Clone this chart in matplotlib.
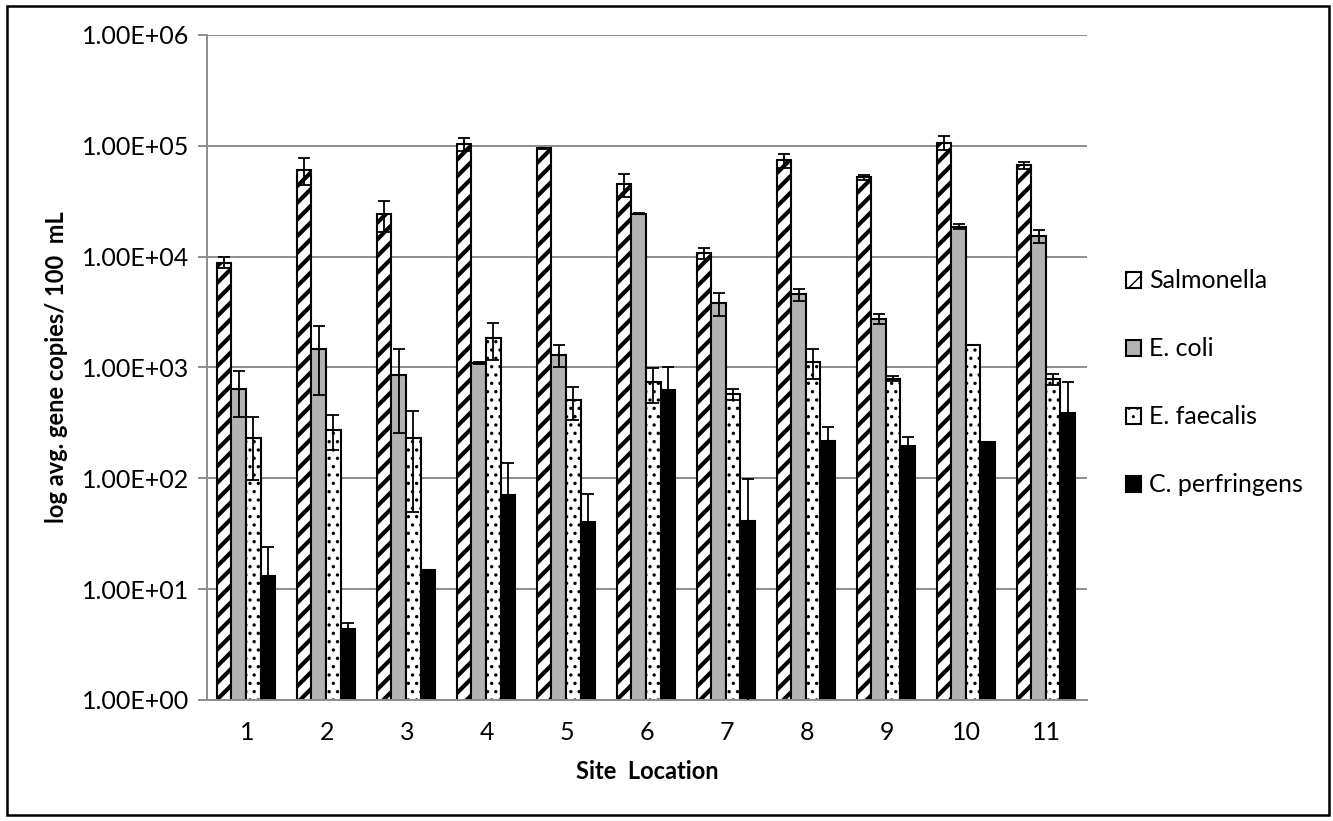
import matplotlib
matplotlib.use('Agg')
import matplotlib.pyplot as plt
import numpy as np
from matplotlib.patches import Rectangle
from matplotlib.ticker import FixedLocator, FuncFormatter

plt.rcParams['font.family'] = ['Lato', 'DejaVu Sans']

sites = ['1', '2', '3', '4', '5', '6', '7', '8', '9', '10', '11']
species = ['Salmonella', 'E. coli', 'E. faecalis', 'C. perfringens']

salmonella = [8850, 61000, 24300, 104000, 95000, 45000, 10700, 74000, 51800, 107000, 67000]
salmonella_err = [1000, 17000, 7600, 14500, 1000, 10500, 1250, 11000, 3000, 15000, 4700]

ecoli = [646, 1460, 859, 1100, 1300, 24500, 3800, 4560, 2750, 18700, 15400]
ecoli_err = [290, 900, 600, 30, 300, 300, 900, 550, 300, 800, 2100]

efaecalis = [229, 274, 229, 1840, 504, 738, 578, 1130, 791, 1580, 791]
efaecalis_err = [132, 95, 179, 660, 168, 260, 66, 340, 40, 0, 90]

cperf = [13.1, 4.35, 14.8, 70, 40.5, 631, 41.6, 215, 196, 213, 387]
cperf_err = [11, 0.65, 0, 68, 32, 370, 57, 78, 40, 0, 350]

values = [salmonella, ecoli, efaecalis, cperf]
errors = [salmonella_err, ecoli_err, efaecalis_err, cperf_err]
faces = ['white', '#b2b2b2', 'white', 'black']
hatches = ['//', None, '..', None]
hatch_lw = [3.0, 1.0, 1.2, 1.0]

fig = plt.figure(figsize=(13.33, 8.21), dpi=100)
ax = fig.add_axes([0.1553, 0.1474, 0.66, 0.81])

x = np.arange(len(sites))
w = 0.182
for k in range(4):
    pos = x + (k - 1.5) * w - 0.012
    with plt.rc_context({'hatch.linewidth': hatch_lw[k]}):
        ax.bar(pos, values[k], w, color=faces[k], edgecolor='black',
               linewidth=1.5, hatch=hatches[k], label=species[k], zorder=2)
    ax.errorbar(pos, values[k], yerr=errors[k], fmt='none', ecolor='black',
                elinewidth=1.3, capsize=4, capthick=1.3, zorder=3)

ax.set_yscale('log')
ax.set_ylim(1, 1e6)
ax.set_xlim(-0.5, len(sites) - 0.5)
ax.yaxis.set_major_locator(FixedLocator([10.0 ** i for i in range(7)]))
ax.yaxis.set_minor_locator(FixedLocator([]))
ax.yaxis.set_major_formatter(FuncFormatter(lambda v, p: f'{v:.2E}'))
ax.set_xticks(x)
ax.set_xticklabels(sites)

ax.set_axisbelow(True)
ax.grid(axis='y', color='#8c8c8c', linewidth=1.4)
for s in ['top', 'right']:
    ax.spines[s].set_visible(False)
for s in ['left', 'bottom']:
    ax.spines[s].set_color('#8c8c8c')
    ax.spines[s].set_linewidth(1.4)
ax.tick_params(axis='y', length=6.5, width=1.4, color='#8c8c8c', pad=6,
               labelsize=18)
ax.tick_params(axis='x', length=0, pad=15, labelsize=18)

ax.set_xlabel('Site  Location', fontsize=17, fontweight='bold', labelpad=12)
ax.set_ylabel('log avg. gene copies/ 100  mL', fontsize=17, fontweight='bold',
              labelpad=10)

fig.legend(loc='center left', bbox_to_anchor=(0.845, 0.5335), frameon=False,
           fontsize=18, handlelength=0.6, handleheight=0.6,
           handletextpad=0.3, labelspacing=1.8, borderpad=0, borderaxespad=0)

fig.patches.append(Rectangle((0.005, 0.007), 0.992, 0.986, transform=fig.transFigure,
                             fill=False, edgecolor='black', linewidth=1.8))

fig.savefig('out.png', dpi=100)
